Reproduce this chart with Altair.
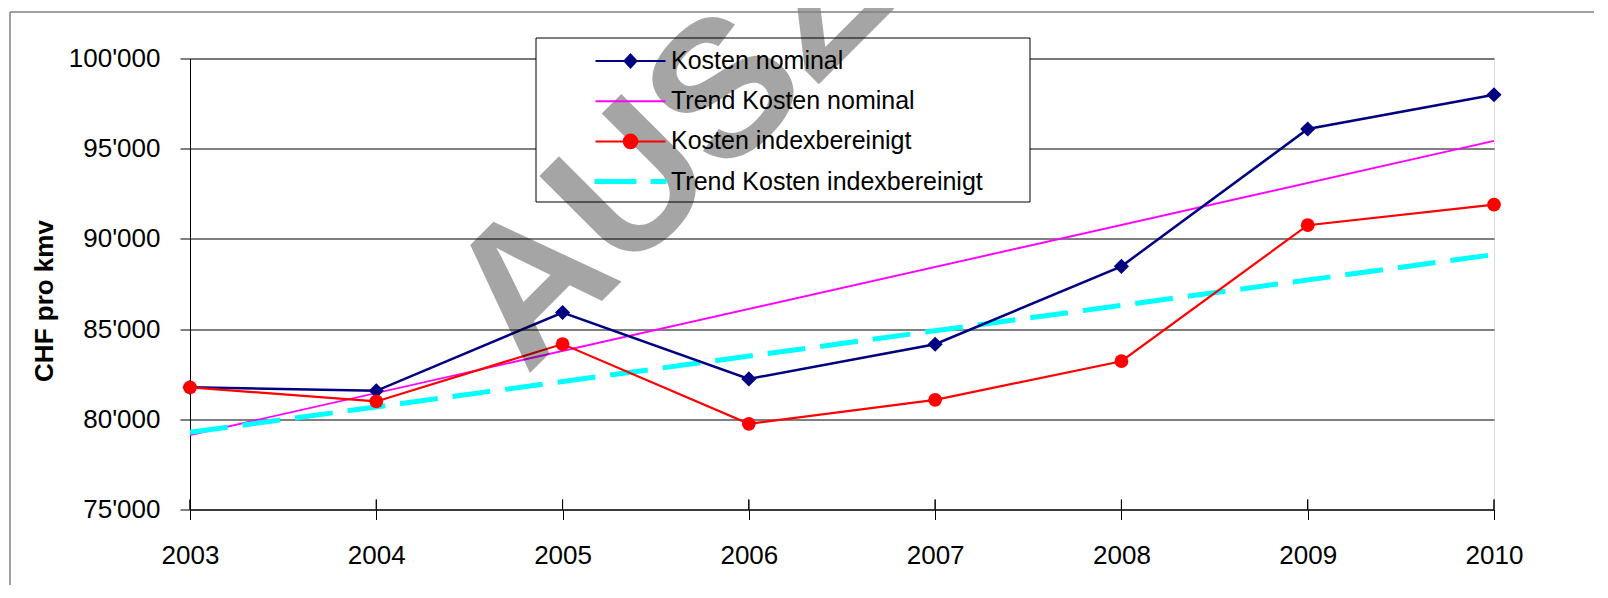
import altair as alt
import pandas as pd

# ---------------- data ----------------
years = [2003, 2004, 2005, 2006, 2007, 2008, 2009, 2010]
kosten_nominal = [81770, 81580, 85920, 82240, 84160, 88480, 96090, 97990]
kosten_index = [81770, 80990, 84170, 79750, 81080, 83220, 90760, 91900]

series_names = ["Kosten nominal", "Trend Kosten nominal",
                "Kosten indexbereinigt", "Trend Kosten indexbereinigt"]
series_colors = ["#000080", "#ff00ff", "#ff0000", "#00ffff"]
y_ticks = [75000, 80000, 85000, 90000, 95000, 100000]
y_title = "CHF pro kmv"
watermark = ["AUSZUG"]

rows = []
for yr, v in zip(years, kosten_nominal):
    rows.append({"year": yr, "value": v, "series": "Kosten nominal"})
for yr, v in zip(years, kosten_index):
    rows.append({"year": yr, "value": v, "series": "Kosten indexbereinigt"})
df = pd.DataFrame(rows)

# ---------------- styling ----------------
W, H = 1304, 451
FONT = "Liberation Sans, Arial, sans-serif"

# legend symbols (custom paths, 1 unit = 10px at symbolSize 400)
legend_paths = [
    "M-3.5,0H3.5M-0.6,0L0,-0.65L0.6,0L0,0.65Z",
    "M-3.5,0H3.5",
    "M-3.5,0H3.5M0.68,0A0.68,0.68,0,1,1,-0.68,0A0.68,0.68,0,1,1,0.68,0Z",
    "M-3.5,-0.15H0.5V0.15H-3.5ZM2.1,-0.15H3.5V0.15H2.1Z",
]

x_enc = alt.X(
    "year:Q",
    scale=alt.Scale(domain=[years[0], years[-1]], nice=False, zero=False),
    axis=alt.Axis(values=years, format="d", title=None, grid=False,
                  domainColor="black", tickColor="black", tickSize=10,
                  labelFont=FONT, labelFontSize=26, labelColor="black",
                  labelPadding=23, labelFlush=False, labelOverlap=False),
)
y_enc = alt.Y(
    "value:Q",
    scale=alt.Scale(domain=[75000, 100000], nice=False, zero=False),
    axis=alt.Axis(values=y_ticks, title=y_title, grid=True, gridColor="black",
                  gridWidth=1, domainColor="black", tickColor="black", tickSize=10,
                  labelFont=FONT, labelFontSize=26, labelColor="black", labelPadding=20,
                  labelExpr='replace(format(datum.value, ","), ",", "\'")',
                  titleFont=FONT, titleFontSize=26, titleFontWeight="bold",
                  titleColor="black", titleAngle=270, titleAlign="center",
                  titleBaseline="middle", titleX=-146, titleY=242),
)

base = alt.Chart(df)
one = pd.DataFrame({"k": [0]})

legend_box = alt.Chart(one).mark_rect(fill="white", stroke="black", strokeWidth=1).encode(
    x=alt.value(346), x2=alt.value(840), y=alt.value(-20.5), y2=alt.value(143.5)
)

tick_up = base.mark_rule(color="black", strokeWidth=1).encode(
    x=x_enc, y=alt.value(H - 10), y2=alt.value(H)
)

trend_nom = base.transform_filter(alt.datum.series == "Kosten nominal").transform_regression(
    "year", "value"
).mark_line(color="#ff00ff", strokeWidth=1.9).encode(x=x_enc, y=y_enc)

trend_idx = base.transform_filter(alt.datum.series == "Kosten indexbereinigt").transform_regression(
    "year", "value"
).mark_line(color="#00ffff", strokeWidth=5, strokeDash=[38, 15]).encode(x=x_enc, y=y_enc)

line_nom = base.transform_filter(alt.datum.series == "Kosten nominal").mark_line(
    color="#000080", strokeWidth=2.5).encode(x=x_enc, y=y_enc)
line_idx = base.transform_filter(alt.datum.series == "Kosten indexbereinigt").mark_line(
    color="#ff0000", strokeWidth=2.2).encode(x=x_enc, y=y_enc)

pts_nom = base.transform_filter(alt.datum.series == "Kosten nominal").mark_point(
    shape="diamond", filled=True, size=230, opacity=1, color="#000080").encode(x=x_enc, y=y_enc)
pts_idx = base.transform_filter(alt.datum.series == "Kosten indexbereinigt").mark_point(
    shape="circle", filled=True, size=190, opacity=1, color="#ff0000").encode(x=x_enc, y=y_enc)

leg_kw = dict(title=None, orient="none", legendX=428, legendY=-10,
              labelFont=FONT, labelFontSize=25, labelColor="black", labelLimit=800,
              symbolSize=400, symbolStrokeWidth=2, rowPadding=14.2, labelOffset=28,
              padding=0, symbolOffset=0)
legend_layer = base.transform_filter("false").mark_point(filled=True, opacity=1, size=400).encode(
    x=x_enc, y=y_enc,
    fill=alt.Fill("series:N", scale=alt.Scale(domain=series_names, range=series_colors),
                  legend=alt.Legend(**leg_kw)),
    stroke=alt.Stroke("series:N", scale=alt.Scale(domain=series_names, range=series_colors),
                      legend=alt.Legend(**leg_kw)),
    shape=alt.Shape("series:N", scale=alt.Scale(domain=series_names, range=legend_paths),
                    legend=alt.Legend(**leg_kw)),
)

wm = alt.Chart(pd.DataFrame({"t": watermark})).mark_text(
    font=FONT, fontWeight="bold", fontSize=193, color="black", opacity=0.35,
    angle=315, align="left", baseline="alphabetic"
).encode(x=alt.value(336.5), y=alt.value(318), text="t:N")

frame_top = alt.Chart(one).mark_rule(color="#808080", strokeWidth=1.5).encode(
    x=alt.value(-180), x2=alt.value(1500), y=alt.value(-46.5))
frame_left = alt.Chart(one).mark_rule(color="#808080", strokeWidth=1.5).encode(
    x=alt.value(-180), y=alt.value(-46.5), y2=alt.value(600))

chart = alt.layer(
    legend_box, tick_up, trend_nom, trend_idx, line_nom, line_idx, pts_nom, pts_idx,
    legend_layer, wm, frame_top, frame_left
).properties(
    width=W, height=H, autosize="none",
    padding={"left": 182, "top": 50.5, "right": 100, "bottom": 75},
).configure_view(stroke="black", strokeWidth=1).configure(background="white")

chart.save("out.html", embed_options={"renderer": "svg", "actions": False})
